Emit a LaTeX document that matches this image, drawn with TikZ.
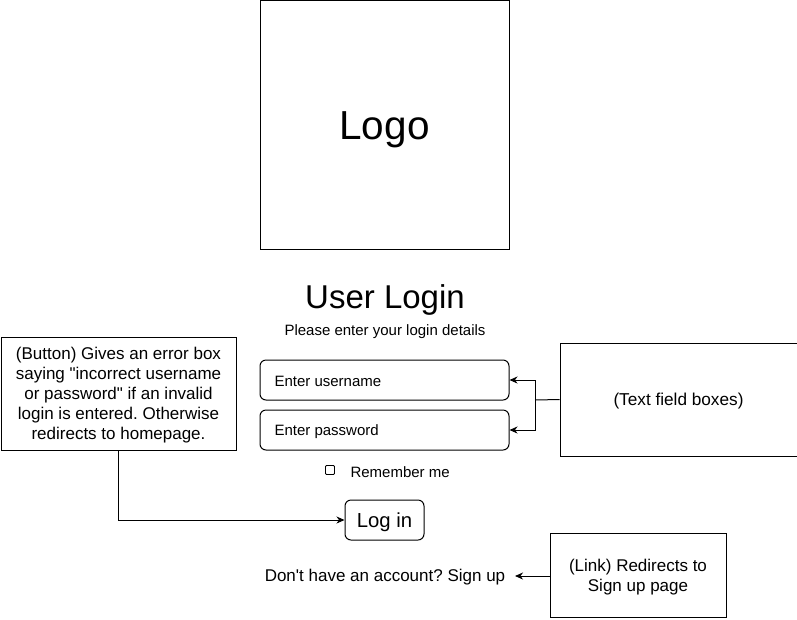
\documentclass[tikz,border=0pt]{standalone}
\usepackage{fontspec}
\setmainfont{Liberation Sans}
\usetikzlibrary{arrows.meta}
\begin{document}
\frenchspacing
\begin{tikzpicture}[x=1pt,y=-1pt,line width=1pt,
  box/.style={draw,rectangle,inner sep=0pt},
  field/.style={draw,rounded corners=6pt,inner sep=0pt},
  txt/.style={inner sep=0pt,align=center},
  arr/.style={-{Stealth[length=8pt,width=7pt,inset=2.5pt]}}]
\useasboundingbox (0,0) rectangle (797,619);
% logo
\node[box,minimum width=249pt,minimum height=249pt] (logo) at (384.5,124.75) {};
\node[txt,font=\fontsize{40.5}{46}\selectfont] (logotxt) at (384.5,130) {Logo};
% title
\node[txt,font=\fontsize{33}{38}\selectfont] (title) at (385,299.5) {User Login};
\node[txt,font=\fontsize{15}{18}\selectfont] (sub) at (385,331.5) {Please enter your login details};
% fields
\node[field,minimum width=249pt,minimum height=40pt] (user) at (384.5,380) {};
\node[txt,anchor=west,font=\fontsize{15}{18}\selectfont] (usertxt) at (274,381.5) {Enter username};
\node[field,minimum width=249pt,minimum height=40pt] (pass) at (384.5,430) {};
\node[txt,anchor=west,font=\fontsize{15}{18}\selectfont] (passtxt) at (274,431.5) {Enter password};
% remember me
\node[draw,rounded corners=1pt,minimum size=9pt,inner sep=0pt,line width=0.9pt] (chk) at (330,470) {};
\node[txt,anchor=west,font=\fontsize{15}{18}\selectfont] (rem) at (350,472) {Remember me};
% log in button
\node[field,minimum width=79pt,minimum height=40pt] (login) at (384.5,520) {};
\node[txt,font=\fontsize{20.3}{24}\selectfont] (logintxt) at (384.5,522) {Log in};
% sign up
\node[txt,font=\fontsize{17}{20}\selectfont] (signup) at (385,577.5) {Don\textquotesingle t have an account? Sign up};
% annotation boxes
\node[box,minimum width=237pt,minimum height=113pt] (tfb) at (678.5,399.5) {};
\node[txt,font=\fontsize{17.2}{20}\selectfont] (tfbtxt) at (678.5,401.5) {(Text field boxes)};
\node[box,minimum width=235pt,minimum height=113pt] (btn) at (118.5,393.5) {};
\node[txt,font=\fontsize{17}{20}\selectfont] (btntxt) at (118.5,395.5)
 {(Button) Gives an error box\\saying \textquotedbl incorrect username\\or password\textquotedbl{} if an invalid\\login is entered. Otherwise\\redirects to homepage.};
\node[box,minimum width=176pt,minimum height=84pt] (link) at (638,575) {};
\node[txt,font=\fontsize{17}{20}\selectfont] (linktxt) at (638,577)
 {(Link) Redirects to\\Sign up page};
% connectors
\coordinate (j) at (535,400);
\draw (tfb.west) -- (j);
\draw[arr] (j) |- (user.east);
\draw[arr] (j) |- (pass.east);
\draw[arr] (btn.south) |- (login.west);
\coordinate (su) at (515,576);
\draw[arr] (link.west |- su) -- (su);
\end{tikzpicture}
\end{document}
